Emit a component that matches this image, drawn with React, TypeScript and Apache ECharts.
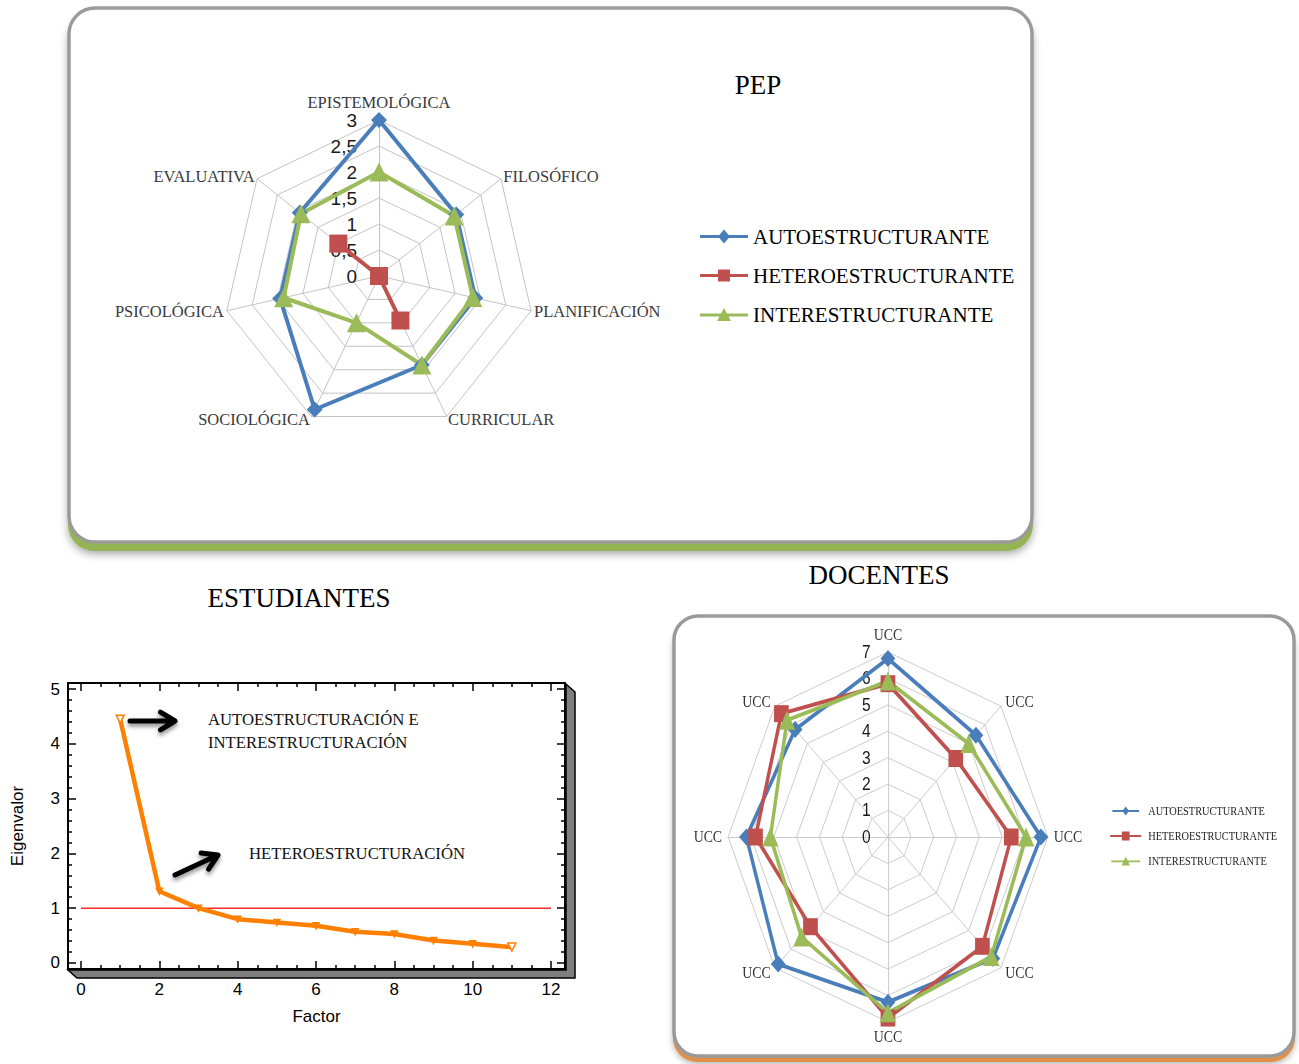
import { useEffect, useRef } from "react";
import * as echarts from "echarts";

// ---------- PEP radar ----------
const pepAxes = [
  "EPISTEMOLÓGICA",
  "FILOSÓFICO",
  "PLANIFICACIÓN",
  "CURRICULAR",
  "SOCIOLÓGICA",
  "PSICOLÓGICA",
  "EVALUATIVA",
];
const pepAuto = [3, 1.9, 1.9, 1.9, 2.85, 1.95, 1.95];
const pepHetero = [0, 0, 0, 0.95, 0, 0, 1];
const pepInter = [2, 1.85, 1.85, 1.9, 1, 1.88, 1.92];
const pepMax = 3;
const pepSplits = 6;

// ---------- DOCENTES radar ----------
const docAxes = ["UCC", "UCC", "UCC", "UCC", "UCC", "UCC", "UCC", "UCC"];
const docAuto = [6.75, 5.45, 6.7, 6.5, 6.25, 6.8, 6.2, 5.75];
const docHetero = [5.8, 4.2, 5.4, 5.85, 6.85, 4.8, 5.8, 6.6];
const docInter = [5.9, 5.0, 6.05, 6.4, 6.65, 5.35, 5.15, 6.25];
const docMax = 7;

// ---------- ESTUDIANTES scree plot ----------
const factors = [1, 2, 3, 4, 5, 6, 7, 8, 9, 10, 11];
const eigenvalues = [4.45, 1.31, 1.0, 0.8, 0.74, 0.68, 0.57, 0.53, 0.41, 0.35, 0.29];
const criterionX = [0, 12];
const criterionY = 1;
const xMajorTicks = [0, 2, 4, 6, 8, 10, 12];
const yMajorTicks = [0, 1, 2, 3, 4, 5];

const SERIES_NAMES = ["AUTOESTRUCTURANTE", "HETEROESTRUCTURANTE", "INTERESTRUCTURANTE"];
const BLUE = "#4a7ebb";
const RED = "#c0504d";
const GREEN = "#9bbb59";
const ORANGE = "#ff8000";

const SERIF = '"Liberation Serif", "Times New Roman", serif';
const SANS = '"Liberation Sans", Arial, sans-serif';

// legend icons: a line with the series marker in the middle
const ICON_DIAMOND = "path://M0,5.6H48V8.4H0Z M24,0L30,7L24,14L18,7Z";
const ICON_SQUARE = "path://M0,5.6H48V8.4H0Z M18,1H30V13H18Z";
const ICON_TRIANGLE = "path://M0,5.6H48V8.4H0Z M24,0L31,13H17Z";

// scree plot value ranges (frame is a little wider than the ticks)
const X_MIN = -0.332;
const X_MAX = 12.357;
const Y_MIN = -0.11;
const Y_MAX = 5.11;

const xMinorTicks = Array.from({ length: 25 }, (_, i) => i * 0.5).filter((v) => v % 2 !== 0);
const yMinorTicks = Array.from({ length: 26 }, (_, i) => i)
  .filter((i) => i % 5 !== 0)
  .map((i) => Math.round(i * 2) / 10);

// DOCENTES chart box (drawn horizontally condensed)
const DOC_LEFT = 673;
const DOC_TOP = 600;
const DOC_SX = 0.864;
const DOC_W = 725;
const DOC_H = 464;

// ECharts lays radar indicators counter-clockwise; the figure runs clockwise
function clockwise<T>(a: T[]): T[] {
  return [a[0], ...a.slice(1).reverse()];
}

const commaNum = (v: number) => String(v).replace(".", ",");

// one stroke: tail -> tip -> barb, back to tip -> other barb
function arrow(x1: number, y1: number, x2: number, y2: number, head = 17, spread = 0.55) {
  const ang = Math.atan2(y2 - y1, x2 - x1);
  const a1 = ang + Math.PI - spread;
  const a2 = ang + Math.PI + spread;
  return {
    type: "polyline",
    shape: {
      points: [
        [x1, y1],
        [x2, y2],
        [x2 + head * Math.cos(a1), y2 + head * Math.sin(a1)],
        [x2, y2],
        [x2 + head * Math.cos(a2), y2 + head * Math.sin(a2)],
      ],
    },
    style: {
      stroke: "#000",
      lineWidth: 5,
      lineCap: "round",
      lineJoin: "round",
      fill: null,
      shadowBlur: 4,
      shadowOffsetY: 3,
      shadowColor: "rgba(0,0,0,0.45)",
    },
  };
}

function radarSeries(values: number[][], lineWidth: number, sizes: number[]) {
  const symbols = ["diamond", "rect", "triangle"];
  const colors = [BLUE, RED, GREEN];
  return values.map((v, i) => ({
    type: "radar",
    name: SERIES_NAMES[i],
    symbol: symbols[i],
    symbolSize: sizes[i],
    lineStyle: { color: colors[i], width: lineWidth },
    itemStyle: { color: colors[i] },
    emphasis: { disabled: true },
    data: [{ name: SERIES_NAMES[i], value: clockwise(v) }],
  }));
}

function buildMainOption() {
  const tickAxis = (
    dim: "x" | "y",
    position: string,
    ticks: number[],
    len: number,
    withLine: boolean,
    extra: any = {}
  ) => ({
    type: "value",
    gridIndex: 0,
    position,
    min: dim === "x" ? X_MIN : Y_MIN,
    max: dim === "x" ? X_MAX : Y_MAX,
    axisLine: { show: withLine, onZero: false, lineStyle: { color: "#000", width: 2 } },
    axisTick: { show: true, inside: true, length: len, customValues: ticks, lineStyle: { color: "#000", width: 1.5 } },
    axisLabel: { show: false },
    splitLine: { show: false },
    ...extra,
  });

  const titleText = (text: string, x: number, y: number) => ({
    type: "text",
    x,
    y,
    style: { text, fontSize: 27, fontFamily: SERIF, fill: "#000", align: "center", verticalAlign: "middle" },
  });
  const noteText = (text: string, x: number, y: number) => ({
    type: "text",
    x,
    y,
    style: { text, fontSize: 16.7, fontFamily: SERIF, fill: "#111", align: "left", verticalAlign: "middle" },
  });

  return {
    animation: false,
    backgroundColor: "#fff",
    graphic: [
      // PEP frame
      {
        type: "rect",
        z: -10,
        shape: { x: 68, y: 14, width: 965, height: 537, r: 26 },
        style: { fill: "#94b454", shadowBlur: 8, shadowOffsetY: 3, shadowColor: "rgba(0,0,0,0.35)" },
      },
      {
        type: "rect",
        z: -9,
        shape: { x: 69, y: 8, width: 963, height: 534, r: 26 },
        style: { fill: "#fff", stroke: "#9a9a9a", lineWidth: 3.5 },
      },
      // DOCENTES frame
      {
        type: "rect",
        z: -10,
        shape: { x: 673, y: 622, width: 622, height: 440, r: 24 },
        style: { fill: "#e0904a", shadowBlur: 6, shadowOffsetY: 2, shadowColor: "rgba(0,0,0,0.3)" },
      },
      {
        type: "rect",
        z: -9,
        shape: { x: 674, y: 616, width: 620, height: 440, r: 24 },
        style: { fill: "#fff", stroke: "#9a9a9a", lineWidth: 3.5 },
      },
      // scree plot 3D frame shadow
      {
        type: "polygon",
        z: -5,
        shape: {
          points: [
            [566, 684],
            [575, 692],
            [575, 978],
            [77, 978],
            [68, 970],
            [566, 970],
          ],
        },
        style: { fill: "#7f7f7f", stroke: "#000", lineWidth: 1.5 },
      },
      titleText("PEP", 758, 85),
      titleText("ESTUDIANTES", 299, 598),
      titleText("DOCENTES", 879, 575),
      noteText("AUTOESTRUCTURACIÓN E", 208, 719),
      noteText("INTERESTRUCTURACIÓN", 208, 742),
      noteText("HETEROESTRUCTURACIÓN", 249, 853),
      arrow(130, 721, 175, 721),
      arrow(175, 875, 218, 855),
    ],
    radar: {
      center: [379, 276],
      radius: 156,
      startAngle: 90,
      shape: "polygon",
      splitNumber: pepSplits,
      indicator: clockwise(pepAxes).map((name, i) => ({
        name,
        min: 0,
        max: pepMax,
        ...(i === 0 ? { axisLabel: { show: true } } : {}),
      })),
      axisName: { color: "#3a3a3a", fontSize: 16.5, fontFamily: SERIF },
      axisNameGap: 3,
      splitLine: { lineStyle: { color: "#c4c4c4", width: 1 } },
      splitArea: { show: false },
      axisLine: { lineStyle: { color: "#c4c4c4", width: 1 } },
      axisTick: { show: false },
      axisLabel: {
        show: false,
        fontSize: 19,
        color: "#1a1a1a",
        fontFamily: SANS,
        margin: 22,
        formatter: commaNum,
      },
    },
    legend: {
      orient: "vertical",
      left: 700,
      top: 226,
      padding: 0,
      itemGap: 18,
      itemWidth: 48,
      itemHeight: 14,
      selectedMode: false,
      textStyle: { fontFamily: SERIF, fontSize: 21, color: "#000" },
      data: [
        { name: SERIES_NAMES[0], icon: ICON_DIAMOND },
        { name: SERIES_NAMES[1], icon: ICON_SQUARE },
        { name: SERIES_NAMES[2], icon: ICON_TRIANGLE },
      ],
    },
    grid: { left: 68, top: 683, width: 497, height: 286, outerBoundsMode: "none", containLabel: false },
    xAxis: [
      tickAxis("x", "bottom", xMajorTicks, 8, true, {
        axisLabel: { show: true, customValues: xMajorTicks, fontSize: 17, fontFamily: SANS, color: "#000", margin: 12 },
        name: "Factor",
        nameLocation: "middle",
        nameGap: 39,
        nameTextStyle: { fontSize: 17, fontFamily: SANS, color: "#000" },
      }),
      tickAxis("x", "bottom", xMinorTicks, 4, false),
      tickAxis("x", "top", xMajorTicks, 8, true),
      tickAxis("x", "top", xMinorTicks, 4, false),
    ],
    yAxis: [
      tickAxis("y", "left", yMajorTicks, 8, true, {
        axisLabel: { show: true, customValues: yMajorTicks, fontSize: 17, fontFamily: SANS, color: "#000", margin: 8 },
        name: "Eigenvalor",
        nameLocation: "middle",
        nameGap: 42,
        nameTextStyle: { fontSize: 17, fontFamily: SANS, color: "#000" },
      }),
      tickAxis("y", "left", yMinorTicks, 4, false),
      tickAxis("y", "right", yMajorTicks, 8, true),
      tickAxis("y", "right", yMinorTicks, 4, false),
    ],
    series: [
      ...radarSeries([pepAuto, pepHetero, pepInter], 4, [16, 18, 19]),
      {
        type: "line",
        name: "criterio",
        xAxisIndex: 0,
        yAxisIndex: 0,
        symbol: "none",
        lineStyle: { color: "#ff2a2a", width: 1.5 },
        emphasis: { disabled: true },
        data: criterionX.map((x) => [x, criterionY]),
      },
      {
        type: "line",
        name: "Eigenvalor",
        xAxisIndex: 0,
        yAxisIndex: 0,
        symbol: "triangle",
        symbolRotate: 180,
        showAllSymbol: true,
        lineStyle: { color: ORANGE, width: 4.5 },
        itemStyle: { color: "#fff", borderColor: ORANGE, borderWidth: 1.5 },
        emphasis: { disabled: true },
        data: factors.map((f, i) => {
          const end = i === 0 || i === factors.length - 1;
          return {
            value: [f, eigenvalues[i]],
            symbolSize: end ? 8 : 6,
            itemStyle: { color: end ? "#fff" : ORANGE },
          };
        }),
      },
    ],
  };
}

function buildDocOption() {
  return {
    animation: false,
    radar: {
      center: [248.8, 237],
      radius: 185,
      startAngle: 90,
      shape: "polygon",
      splitNumber: docMax,
      indicator: clockwise(docAxes).map((name, i) => ({
        name,
        min: 0,
        max: docMax,
        ...(i === 0 ? { axisLabel: { show: true } } : {}),
      })),
      axisName: { color: "#333", fontSize: 16, fontFamily: SERIF },
      axisNameGap: 7,
      splitLine: { lineStyle: { color: "#c8c8c8", width: 1 } },
      splitArea: { show: false },
      axisLine: { lineStyle: { color: "#c8c8c8", width: 1 } },
      axisTick: { show: false },
      axisLabel: {
        show: false,
        fontSize: 18,
        color: "#1a1a1a",
        fontFamily: SANS,
        margin: 20,
        formatter: commaNum,
      },
    },
    legend: {
      orient: "vertical",
      left: 506,
      top: 205,
      padding: 0,
      itemGap: 13,
      itemWidth: 42,
      itemHeight: 9,
      selectedMode: false,
      textStyle: { fontFamily: SERIF, fontSize: 12, color: "#222" },
      data: [
        { name: SERIES_NAMES[0], icon: ICON_DIAMOND },
        { name: SERIES_NAMES[1], icon: ICON_SQUARE },
        { name: SERIES_NAMES[2], icon: ICON_TRIANGLE },
      ],
    },
    series: radarSeries([docAuto, docHetero, docInter], 4, [17, 17, 19]),
  };
}

export default function App() {
  const mainRef = useRef<HTMLDivElement>(null);
  const docRef = useRef<HTMLDivElement>(null);

  useEffect(() => {
    const main = echarts.init(mainRef.current!, null, { renderer: "svg" });
    main.setOption(buildMainOption() as any);
    const doc = echarts.init(docRef.current!, null, { renderer: "svg" });
    doc.setOption(buildDocOption() as any);
    return () => {
      main.dispose();
      doc.dispose();
    };
  }, []);

  return (
    <div
      style={{
        position: "absolute",
        left: 0,
        top: 0,
        width: 1299,
        height: 1064,
        overflow: "hidden",
        background: "#fff",
      }}
    >
      <div ref={mainRef} style={{ position: "absolute", left: 0, top: 0, width: 1299, height: 1064 }} />
      <div
        ref={docRef}
        style={{
          position: "absolute",
          left: DOC_LEFT,
          top: DOC_TOP,
          width: DOC_W,
          height: DOC_H,
          transform: `scaleX(${DOC_SX})`,
          transformOrigin: "0 0",
        }}
      />
    </div>
  );
}
